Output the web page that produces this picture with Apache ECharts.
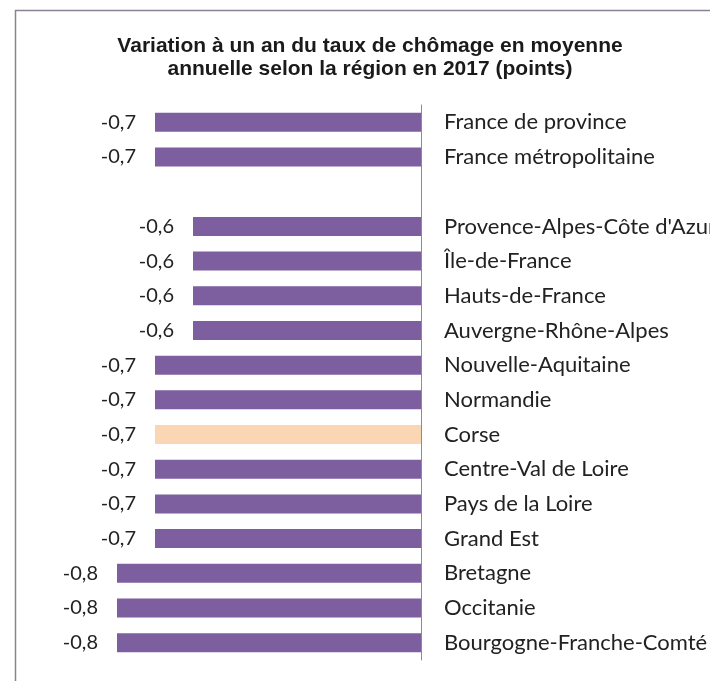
<!DOCTYPE html>
<html><head><meta charset="utf-8">
<script src="https://cdn.jsdelivr.net/npm/echarts@6/dist/echarts.min.js"></script>
<style>html,body{margin:0;padding:0;background:#fff}#c{width:710px;height:681px}</style>
</head><body><div id="c"></div>
<script>
const titleText = "Variation à un an du taux de chômage en moyenne\nannuelle selon la région en 2017 (points)";
const regions = ["France de province","France métropolitaine","","Provence-Alpes-Côte d'Azur","Île-de-France","Hauts-de-France","Auvergne-Rhône-Alpes","Nouvelle-Aquitaine","Normandie","Corse","Centre-Val de Loire","Pays de la Loire","Grand Est","Bretagne","Occitanie","Bourgogne-Franche-Comté"];
const values = [-0.7,-0.7,null,-0.6,-0.6,-0.6,-0.6,-0.7,-0.7,-0.7,-0.7,-0.7,-0.7,-0.8,-0.8,-0.8];
const highlight = "Corse";

const chart = echarts.init(document.getElementById('c'));
chart.setOption({
  animation:false,
  backgroundColor:'#ffffff',
  title:{text:titleText,left:365,top:30,textAlign:'center',
    textStyle:{fontFamily:'Liberation Sans',fontWeight:'bold',fontSize:21,lineHeight:23,color:'#1a1a1a'}},
  graphic:[{type:'rect',shape:{x:15.5,y:10.5,width:720,height:700},style:{fill:null,stroke:'#8a8294',lineWidth:1.5}}],
  grid:{left:117,right:289,top:105,bottom:21,containLabel:false,outerBoundsMode:'none'},
  xAxis:{type:'value',min:-0.8,max:0,show:false},
  yAxis:{type:'category',data:regions,inverse:true,position:'right',
    axisLine:{show:true,onZero:false,lineStyle:{color:'#8c8c8c',width:1}},
    axisTick:{show:false},
    axisLabel:{margin:23,align:'left',fontFamily:'Lato',fontSize:22,color:'#222'}},
  series:[{type:'bar',barWidth:19,
    data:values.map((v,i)=>({value:v,itemStyle:{color:regions[i]===highlight?'#fad6b4':'#7d5fa0'}})),
    label:{show:true,position:'left',distance:19,fontFamily:'Lato',fontSize:20,color:'#222',
      formatter:p=>p.value==null?'':String(p.value).replace('.',',')}}]
});
</script></body></html>
